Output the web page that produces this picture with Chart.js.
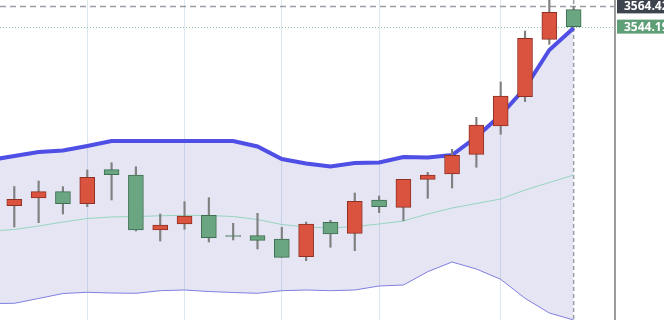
<!DOCTYPE html>
<html>
<head>
<meta charset="utf-8">
<script src="https://cdn.jsdelivr.net/npm/chart.js@4.4.1/dist/chart.umd.min.js"></script>
<style>
  html, body { margin: 0; padding: 0; background: #fff; overflow: hidden; }
  canvas { display: block; }
</style>
</head>
<body>
<canvas id="chart" width="664" height="320"></canvas>
<script>
/* candles, one per session (index 0..23) */
const candleIdx = [0,1,2,3,4,5,6,7,8,9,10,11,12,13,14,15,16,17,18,19,20,21,22,23];
const opens  = [3365.1,3372.8,3379.1,3367.1,3401.1,3395.8,3340.8,3346.8,3355.5,3335.3,3335.1,3331.8,
                3314.1,3348.5,3337.5,3370.8,3363.5,3391.5,3396.8,3416.5,3444.8,3474.1,3531.5,3561.1];
const highs  = [3384.3,3389.8,3384.1,3400.8,3408.1,3404.1,3356.8,3369.1,3373.1,3347.5,3357.5,3343.5,
                3348.8,3350.5,3377.8,3374.8,3391.5,3398.5,3421.5,3453.5,3488.8,3539.8,3573.8,3564.1];
const lows   = [3343.8,3348.1,3356.8,3364.1,3370.8,3339.8,3329.8,3341.5,3328.8,3330.8,3321.8,3313.5,
                3310.1,3323.5,3320.1,3358.1,3350.1,3372.5,3382.8,3403.5,3436.5,3469.1,3526.5,3543.5];
const closes = [3371.5,3379.1,3367.1,3393.5,3396.1,3340.8,3345.8,3354.8,3333.1,3334.3,3330.5,3313.5,
                3346.8,3336.8,3369.5,3364.1,3391.5,3395.8,3415.5,3445.8,3474.8,3532.5,3558.5,3544.19];

/* bollinger bands, index -1..23 */
const bandIdx   = [-1,0,1,2,3,4,5,6,7,8,9,10,11,12,13,14,15,16,17,18,19,20,21,22,23];
const bandUpper = [3410.8,3414.8,3418.8,3420.3,3424.8,3429.8,3429.8,3429.8,3429.8,3429.8,3429.8,3424.3,3411.8,
                   3407.3,3404.3,3407.8,3408.3,3413.8,3413.3,3415.8,3433.8,3455.8,3482.8,3520.8,3542.8];
const bandMid   = [3339.8,3341.3,3344.8,3348.8,3352.3,3353.8,3354.3,3355.0,3355.5,3355.3,3354.3,3351.3,3346.3,
                   3343.8,3342.8,3344.3,3346.8,3349.8,3356.8,3362.8,3367.3,3371.8,3380.8,3388.3,3395.8];
const bandLower = [3267.3,3267.5,3272.3,3277.3,3278.5,3277.8,3277.5,3280.1,3280.8,3279.3,3278.3,3277.5,3280.1,
                   3280.8,3280.1,3280.8,3284.8,3285.8,3299.1,3308.8,3301.8,3291.5,3272.5,3257.8,3250.8];

/* vertical grid positions and price tags */
const gridTicks  = [3, 7, 11, 15, 20];
const hoverPrice = 3564.42;
const lastPrice  = 3544.19;
const hoverIdx   = 23;

const UP = '#d9533f', UP_EDGE = '#8e3024';
const DN = '#6aa681', DN_EDGE = '#3f6e52';

const isUp = candleIdx.map(i => closes[i] >= opens[i]);

/* price lines under the candles, tags on the axis */
const overlay = {
  id: 'overlay',
  beforeDatasetsDraw(chart) {
    const { ctx, chartArea: a, scales: { x, y } } = chart;
    ctx.save();
    ctx.lineWidth = 1;
    // last price, dotted green
    ctx.strokeStyle = '#86c6a0';
    ctx.setLineDash([1, 2]);
    let yy = Math.round(y.getPixelForValue(lastPrice)) + 0.5;
    ctx.beginPath(); ctx.moveTo(a.left, yy); ctx.lineTo(a.right, yy); ctx.stroke();
    // crosshair
    ctx.strokeStyle = '#9a9ea6';
    ctx.lineWidth = 1.5;
    ctx.setLineDash([6, 4]);
    yy = y.getPixelForValue(hoverPrice);
    ctx.beginPath(); ctx.moveTo(a.left, yy); ctx.lineTo(a.right, yy); ctx.stroke();
    ctx.setLineDash([4, 3]);
    const xx = x.getPixelForValue(hoverIdx);
    ctx.beginPath(); ctx.moveTo(xx, a.top); ctx.lineTo(xx, a.bottom); ctx.stroke();
    ctx.restore();
  },
  afterDraw(chart) {
    const { ctx, chartArea: a, scales: { y } } = chart;
    ctx.save();
    ctx.font = 'bold 12px "Open Sans", sans-serif';
    ctx.textBaseline = 'middle';
    const tag = (price, bg) => {
      const py = y.getPixelForValue(price);
      ctx.fillStyle = bg;
      ctx.fillRect(a.right + 2, py - 7, 60, 14);
      ctx.fillStyle = '#fff';
      ctx.fillText(price.toFixed(2), a.right + 9, py + 0.5);
    };
    tag(hoverPrice, '#3e444e');
    tag(lastPrice, '#5f9f77');
    ctx.restore();
  }
};

new Chart(document.getElementById('chart'), {
  data: {
    datasets: [
      { type: 'line', data: bandIdx.map((v, i) => ({ x: v, y: bandUpper[i] })),
        borderColor: '#4f4fe6', borderWidth: 4, pointRadius: 0, tension: 0,
        fill: { target: 2 }, backgroundColor: 'rgba(100,100,190,0.17)', order: 5 },
      { type: 'line', data: bandIdx.map((v, i) => ({ x: v, y: bandMid[i] })),
        borderColor: '#95d5bf', borderWidth: 1, pointRadius: 0, tension: 0, fill: false, order: 6 },
      { type: 'line', data: bandIdx.map((v, i) => ({ x: v, y: bandLower[i] })),
        borderColor: '#7f7fe0', borderWidth: 1, pointRadius: 0, tension: 0, fill: false, order: 7 },
      { type: 'bar', data: candleIdx.map(i => ({ x: i, y: [lows[i], highs[i]] })),
        backgroundColor: '#808080', barThickness: 1.5, grouped: false, order: 2 },
      { type: 'bar', data: candleIdx.map(i => ({ x: i, y: [opens[i], closes[i]] })),
        backgroundColor: isUp.map(u => u ? UP : DN),
        borderColor: isUp.map(u => u ? UP_EDGE : DN_EDGE),
        borderWidth: 1, borderSkipped: false, barThickness: 15, minBarLength: 1,
        grouped: false, order: 1 }
    ]
  },
  options: {
    responsive: false,
    animation: false,
    devicePixelRatio: 1,
    layout: { padding: 0 },
    plugins: { legend: { display: false }, tooltip: { enabled: false },
               filler: { drawTime: 'beforeDatasetsDraw' } },
    scales: {
      x: {
        type: 'linear', min: -0.588, max: 24.70, offset: false,
        afterBuildTicks: s => { s.ticks = gridTicks.map(v => ({ value: v })); },
        afterFit: s => { s.height = 0; },
        ticks: { display: false },
        grid: { color: '#dde7ee', drawTicks: false, offset: false },
        border: { display: false }
      },
      y: {
        position: 'right', min: 3250.8, max: 3570.8,
        afterFit: s => { s.width = 49; },
        ticks: { display: false },
        grid: { display: false },
        border: { display: true, color: '#9b9b9b', width: 2 }
      }
    }
  },
  plugins: [overlay]
});
</script>
</body>
</html>
